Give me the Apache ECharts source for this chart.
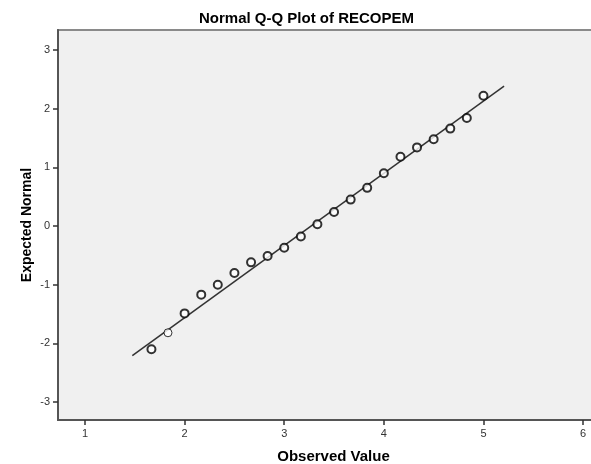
<!DOCTYPE html>
<html>
<head>
<meta charset="utf-8">
<script src="https://cdn.jsdelivr.net/npm/echarts@6/dist/echarts.min.js"></script>
<style>
  html, body { margin: 0; padding: 0; background: #fff; }
  #chart { width: 591px; height: 464px; }
</style>
</head>
<body>
<div id="chart"></div>
<script>
// Observed values (RECOPEM) and their expected normal scores
const observed = [1.667, 1.833, 2.0, 2.167, 2.333, 2.5, 2.667, 2.833, 3.0, 3.167, 3.333,
                  3.5, 3.667, 3.833, 4.0, 4.167, 4.333, 4.5, 4.667, 4.833, 5.0];
const expectedNormal = [-2.10, -1.82, -1.49, -1.17, -1.00, -0.80, -0.62, -0.51, -0.37, -0.18, 0.03,
                        0.24, 0.45, 0.65, 0.90, 1.18, 1.34, 1.48, 1.66, 1.84, 2.22];
// Cases drawn with a single (thin) outline; the rest overlap several cases
const singleCase = [false, true, false, false, false, false, false, false, false, false, false,
                    false, false, false, false, false, false, false, false, false, false];
// Reference line end points
const lineX = [1.475, 5.207];
const lineY = [-2.21, 2.386];
// Tick labels
const xTicks = [1, 2, 3, 4, 5, 6];
const yTicks = [-3, -2, -1, 0, 1, 2, 3];

const points = observed.map((x, i) => ({
  value: [x, expectedNormal[i]],
  itemStyle: { borderWidth: singleCase[i] ? 1 : 2 }
}));
const refLine = lineX.map((x, i) => [x, lineY[i]]);

const FONT = 'Liberation Sans, Arial, sans-serif';

const chart = echarts.init(document.getElementById('chart'), null, { renderer: 'canvas' });
chart.setOption({
  animation: false,
  backgroundColor: '#ffffff',
  title: {
    text: 'Normal Q-Q Plot of RECOPEM',
    left: 199, top: 11, padding: 0,
    textStyle: { fontFamily: FONT, fontSize: 15, fontWeight: 'bold', color: '#000' }
  },
  grid: {
    left: 58, top: 30, width: 545, height: 390,
    outerBoundsMode: 'none', containLabel: false,
    show: true, backgroundColor: '#f0f0f0', borderColor: '#8a8a8a', borderWidth: 2
  },
  xAxis: {
    type: 'value', min: 0.729, max: 6.2,
    name: 'Observed Value', nameLocation: 'middle', nameGap: 29, nameMoveOverlap: false,
    nameTextStyle: { fontFamily: FONT, fontSize: 15, fontWeight: 'bold', color: '#000', padding: [0, 0, 0, 6] },
    axisLine: { show: true, onZero: false, lineStyle: { color: '#555', width: 2 } },
    axisTick: { show: true, customValues: xTicks, length: 5, lineStyle: { color: '#333', width: 1.5 } },
    axisLabel: { customValues: xTicks, color: '#333', fontSize: 11, fontFamily: FONT, margin: 8 },
    splitLine: { show: false }
  },
  yAxis: {
    type: 'value', min: -3.307, max: 3.341,
    name: 'Expected Normal', nameLocation: 'middle', nameGap: 24, nameRotate: 90, nameMoveOverlap: false,
    nameTextStyle: { fontFamily: FONT, fontSize: 14, fontWeight: 'bold', color: '#000' },
    axisLine: { show: true, onZero: false, lineStyle: { color: '#555', width: 2 } },
    axisTick: { show: true, customValues: yTicks, length: 5, lineStyle: { color: '#333', width: 1.5 } },
    axisLabel: { customValues: yTicks, color: '#333', fontSize: 11, fontFamily: FONT, margin: 8 },
    splitLine: { show: false }
  },
  series: [
    {
      type: 'line',
      data: refLine,
      symbol: 'none',
      lineStyle: { color: '#333', width: 1.5 },
      z: 2
    },
    {
      type: 'scatter',
      data: points,
      symbol: 'circle',
      symbolSize: 8,
      itemStyle: { color: '#ffffff', borderColor: '#000', borderWidth: 2 },
      z: 3
    }
  ]
});
</script>
</body>
</html>
